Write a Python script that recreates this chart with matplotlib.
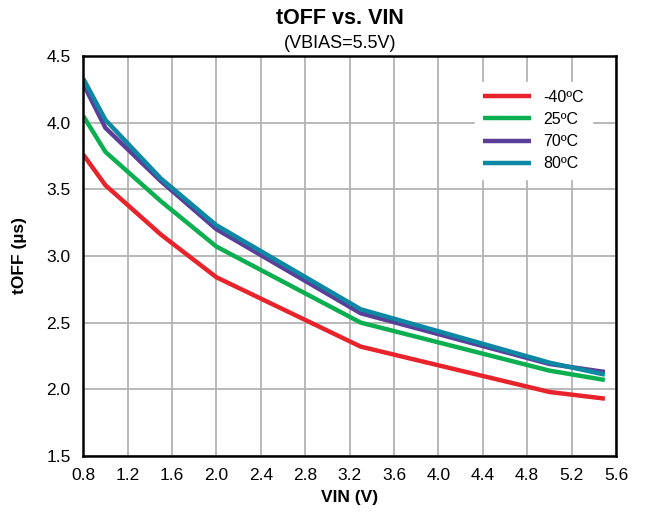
import matplotlib.pyplot as plt
import numpy as np

plt.rcParams['font.family'] = ['Liberation Sans', 'DejaVu Sans']

# Data
vin = [0.8, 1.0, 1.5, 2.0, 3.3, 5.0, 5.5]
toff_m40 = [3.76, 3.53, 3.16, 2.84, 2.32, 1.98, 1.93]
toff_25 = [4.05, 3.78, 3.41, 3.07, 2.50, 2.14, 2.07]
toff_70 = [4.29, 3.96, 3.56, 3.20, 2.57, 2.19, 2.13]
toff_80 = [4.33, 4.02, 3.58, 3.23, 2.60, 2.20, 2.11]

labels = ['-40ºC', '25ºC', '70ºC', '80ºC']
colors = ['#E8232B', '#0BAF50', '#5A3E98', '#0C88A4']
xticks = [0.8, 1.2, 1.6, 2.0, 2.4, 2.8, 3.2, 3.6, 4.0, 4.4, 4.8, 5.2, 5.6]
yticks = [1.5, 2.0, 2.5, 3.0, 3.5, 4.0, 4.5]

fig = plt.figure(figsize=(6.45, 5.17), dpi=100)
ax = fig.add_axes([0.129, 0.118, 0.826, 0.774])

for series, lab, col in zip([toff_m40, toff_25, toff_70, toff_80], labels, colors):
    ax.plot(vin, series, color=col, lw=3.2, label=lab, solid_capstyle='butt')

ax.set_xlim(0.8, 5.6)
ax.set_ylim(1.5, 4.5)
ax.set_xticks(xticks)
ax.set_xticklabels([f'{v:.1f}' for v in xticks])
ax.set_yticks(yticks)
ax.set_yticklabels([f'{v:.1f}' for v in yticks])
ax.grid(True, color='#b3b3b3', lw=1.3)
ax.set_axisbelow(True)
ax.tick_params(axis='x', length=0, labelsize=12.5, pad=9)
ax.tick_params(axis='y', length=0, labelsize=12.5, pad=9)
for s in ax.spines.values():
    s.set_linewidth(1.8)
    s.set_color('black')

ax.set_xlabel('VIN (V)', fontsize=12.5, fontweight='bold', labelpad=5)
ax.set_ylabel('tOFF (µs)', fontsize=12.5, fontweight='bold', labelpad=14)

fig.text(0.527, 0.965, 'tOFF vs. VIN', ha='center', va='center', fontsize=15.5, fontweight='bold')
fig.text(0.527, 0.915, '(VBIAS=5.5V)', ha='center', va='center', fontsize=13)

leg = ax.legend(loc='upper right', bbox_to_anchor=(0.97, 0.955), frameon=True, fontsize=11.5,
                handlelength=3.0, labelspacing=0.45, borderpad=0.5)
leg.get_frame().set_facecolor('white')
leg.get_frame().set_edgecolor('white')
leg.get_frame().set_alpha(1)

fig.savefig('out.png', dpi=100)
